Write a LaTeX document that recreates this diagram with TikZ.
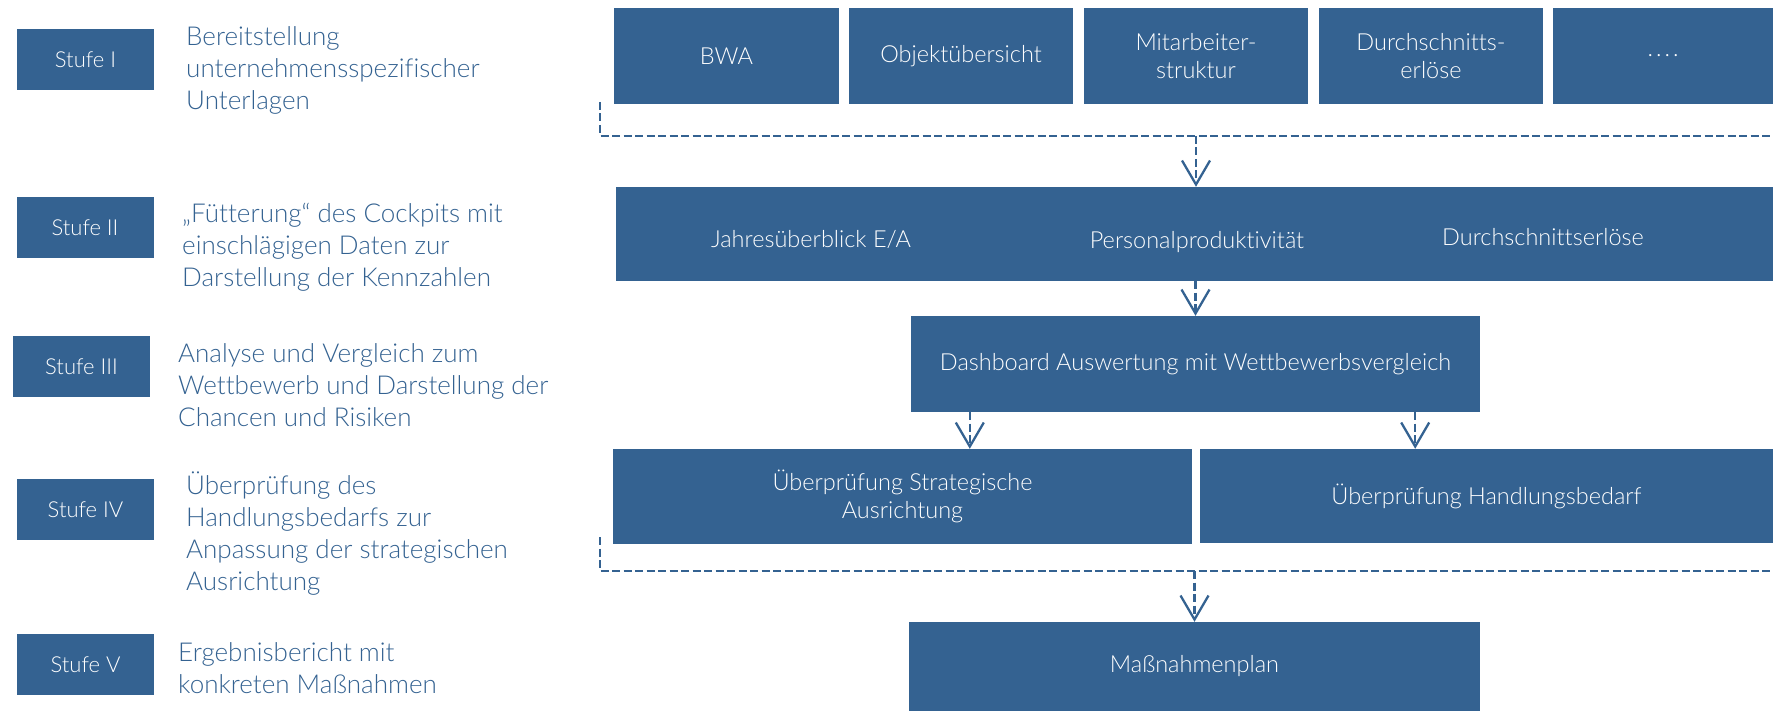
\documentclass[tikz,border=0pt]{standalone}
\usepackage{fontspec}
\setmainfont{Lato Light}[Ligatures=NoCommon]
\usetikzlibrary{arrows.meta,calc}
\definecolor{stufeblue}{RGB}{52,98,145}

\begin{document}
\begin{tikzpicture}[x=1pt,y=-1pt,
    box/.style={fill=stufeblue,text=white,inner sep=0pt,align=center,
      font=\fontsize{23.5}{28.5}\selectfont},
    boxlabel/.style={text=white,inner sep=0pt,anchor=base,
      font=\fontsize{23.5}{28.5}\selectfont},
    stufe/.style={fill=stufeblue,text=white,inner sep=0pt,
      minimum width=137pt,minimum height=61pt,font=\fontsize{22}{25}\selectfont},
    stufetext/.style={text=stufeblue,inner sep=0pt,align=left,anchor=west,
      font=\fontsize{26}{32}\selectfont},
    link/.style={stufeblue,line width=2.3pt,dash pattern=on 8pt off 3.5pt},
    flow/.style={link,-{Straight Barb[length=24pt,width=28pt,line width=2.3pt]}}]

  \useasboundingbox (0,0) rectangle (1773,711);

  \node[stufe] (s1) at (85.5,59.5) {Stufe I};
  \node[stufe] (s2) at (85,227.5) {Stufe II};
  \node[stufe] (s3) at (81.5,366.5) {Stufe III};
  \node[stufe] (s4) at (85.5,509.5) {Stufe IV};
  \node[stufe] (s5) at (85.5,664.5) {Stufe V};

  \node[stufetext] (t1) at (186,70) {Bereitstellung\\unternehmensspezifischer\\Unterlagen};
  \node[stufetext] (t2) at (182,247) {„Fütterung“ des Cockpits mit\\einschlägigen Daten zur\\Darstellung der Kennzahlen};
  \node[stufetext] (t3) at (178,385) {Analyse und Vergleich zum\\Wettbewerb und Darstellung der\\Chancen und Risiken};
  \node[stufetext] (t4) at (186,534) {Überprüfung des\\Handlungsbedarfs zur\\Anpassung der strategischen\\Ausrichtung};
  \node[stufetext] (t5) at (178,668) {Ergebnisbericht mit\\konkreten Maßnahmen};

  \node[box,minimum width=225pt,minimum height=96pt] (bwa) at (726.5,56) {BWA};
  \node[box,minimum width=224pt,minimum height=96pt] (obj) at (961,56) {Objektübersicht};
  \node[box,minimum width=224pt,minimum height=96pt] (mit) at (1196,56) {Mitarbeiter-\\struktur};
  \node[box,minimum width=224pt,minimum height=96pt] (dur) at (1431,56) {Durchschnitts-\\erlöse};
  \node[box,minimum width=220pt,minimum height=96pt] (etc) at (1663,56) {.\kern3pt.\kern3pt.\kern3pt.};

  \node[box,minimum width=1157pt,minimum height=94pt] (kpi) at (1194.5,234) {};
  \node[boxlabel] (ja) at (811,248) {Jahresüberblick E/A};
  \node[boxlabel] (pp) at (1197,249) {Personalproduktivität};
  \node[boxlabel] (de) at (1543,246) {Durchschnittserlöse};

  \node[box,minimum width=569pt,minimum height=96pt] (dash) at (1195.5,364) {Dashboard Auswertung mit Wettbewerbsvergleich};
  \node[box,minimum width=579pt,minimum height=95pt] (strat) at (902.5,496.5) {Überprüfung Strategische\\Ausrichtung};
  \node[box,minimum width=573pt,minimum height=94pt] (hand) at (1486.5,496) {Überprüfung Handlungsbedarf};
  \node[box,minimum width=571pt,minimum height=89pt] (plan) at (1194.5,666.5) {Maßnahmenplan};

  \coordinate (top1) at (600,102);
  \coordinate (top2) at (1773,136);
  \draw[link] (top1) |- (top2);
  \draw[flow] (mit.south |- top2) -- (mit.south |- kpi.north);

  \draw[flow] (dash.north |- kpi.south) -- (dash.north);
  \draw[flow] ($(dash.south west)+(59,0)$) coordinate (d1) -- (d1 |- strat.north);
  \draw[flow] ($(dash.south east)+(-65,0)$) coordinate (d2) -- (d2 |- hand.north);

  \coordinate (low1) at (600,537);
  \coordinate (low2) at (1773,571);
  \draw[link] (low1) |- (low2);
  \draw[flow] (plan.north |- low2) -- (plan.north);

\end{tikzpicture}
\end{document}
